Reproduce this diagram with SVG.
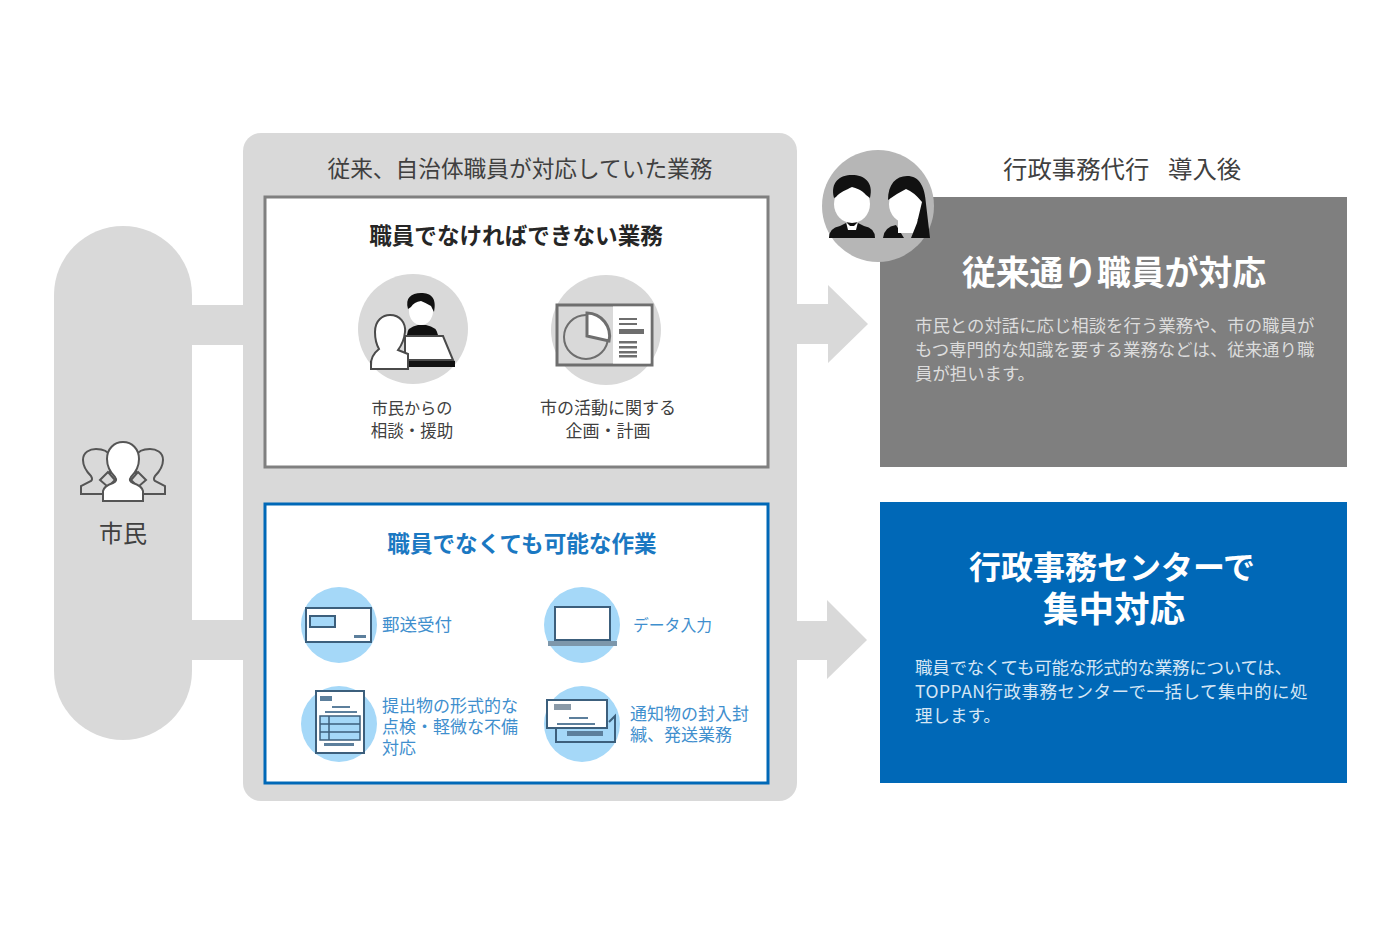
<svg xmlns="http://www.w3.org/2000/svg" width="1400" height="934" viewBox="0 0 1400 934">
<style>
text{font-family:"Noto Sans CJK JP","Noto Sans",sans-serif;text-anchor:middle}
.g{fill:#d9d9d9}
.t{fill:#404040;font-size:17px}
.b{font-family:"Liberation Sans","Noto Sans CJK JP",sans-serif;fill:#3f8fce;font-size:17px;text-anchor:start}
.h{font-family:"Liberation Sans","Noto Sans CJK JP",sans-serif;font-weight:700;fill:#fff}
.w{fill:#fff}
.body{fill:#dcdcdc;font-size:17.4px;text-anchor:start}
.body2{fill:#d5e6f5;font-size:17.5px;text-anchor:start}
.ic{stroke:#4a4a4a;stroke-width:2;fill:#fff}
.icb{stroke:#3c5f7c;stroke-width:2;fill:#fff}
.lc{fill:#a5d8f8}
.k{fill:#111}
.bar{fill:#6e6e6e}
.barb{fill:#5c7f9c}
</style>
<rect width="1400" height="934" fill="#fff"/>
<g id="connectors">
<rect class="g" x="190" y="305" width="56" height="40"/>
<rect class="g" x="190" y="620" width="56" height="40"/>
<path class="g" d="M795 304H828V285L868 324L828 363V344H795Z"/>
<path class="g" d="M795 621H827V600L867 640L827 679V660H795Z"/>
</g>
<g id="citizen">
<rect class="g" x="54" y="226" width="138" height="514" rx="69"/>
<g stroke="#555" stroke-width="2" fill="#d9d9d9">
<path d="M81 494V486L91 481Q93 479 91 476Q83 468 83 460C83 452 90 449 96 449C102 449 108 451 110 456V494Z"/>
<path d="M165 494V486L155 481Q153 479 155 476Q163 468 163 460C163 452 156 449 150 449C144 449 138 451 136 456V494Z"/>
<path d="M100 480L108 472L115 480L108 487Z"/>
<path d="M146 480L138 472L131 480L138 487Z"/>
<path fill="#fff" d="M103 501V491Q104 486 113 483Q118 481 115 477C110 472 107 466 107 459C107 449 114 442 123 442C132 442 139 449 139 459C139 466 136 472 131 477Q128 481 133 483Q142 486 143 491V501Z"/>
</g>
<text x="123" y="542" style="font-size:24px;fill:#404040">市民</text>
</g>
<g id="panel">
<rect class="g" x="243" y="133" width="554" height="668" rx="18"/>
<text x="520" y="177" style="font-size:22.700px;fill:#404040">従来、自治体職員が対応していた業務</text>
</g>
<g id="box-staff">
<rect x="265" y="197" width="503" height="270" fill="#fff" stroke="#808080" stroke-width="3"/>
<text x="516" y="244" style="font-size:22.600px;font-weight:700;fill:#262626">職員でなければできない業務</text>
<circle class="g" cx="413" cy="329" r="55"/>
<path class="k" d="M407 335Q407 327 418 325H426Q437 327 438 335Z"/>
<ellipse class="w" cx="421" cy="311" rx="12" ry="14"/>
<path class="k" d="M408 309C405 298 411 293 421 293C431 293 437 298 434 312L431 306Q426 303 421 301Q414 302 411 307Z"/>
<path class="ic" d="M405 336H443L453 360H405Z"/>
<rect class="k" x="370" y="361" width="85" height="6"/>
<path class="ic" d="M371 366Q370 356 379 349Q375 342 375 332C375 320 383 315 390 315C400 315 406 323 405 332Q404 342 398 350L408 354V369H371Z"/>
<text x="412" y="414" style="font-size:16.200px;fill:#404040">市民からの</text>
<text x="412" y="437" style="font-size:16.500px;fill:#404040">相談・援助</text>
<circle class="g" cx="606" cy="330" r="55"/>
<rect x="557" y="305" width="95" height="60" fill="#d9d9d9" stroke="#6e6e6e" stroke-width="3"/>
<rect x="613" y="306.500" width="37.500" height="57" fill="#fff"/>
<circle cx="586" cy="337" r="22" fill="#d9d9d9" stroke="#6e6e6e" stroke-width="2"/>
<path d="M587 313A23 23 0 0 1 609 341L587 336Z" fill="#fff" stroke="#6e6e6e" stroke-width="3"/>
<rect class="bar" x="619" y="318" width="18" height="2"/><rect class="bar" x="619" y="323" width="18" height="2"/>
<rect class="bar" x="619" y="329" width="25" height="5"/>
<rect class="bar" x="619" y="341" width="18" height="2.500"/><rect class="bar" x="619" y="346" width="18" height="2.500"/><rect class="bar" x="619" y="351" width="18" height="2.500"/><rect class="bar" x="619" y="355" width="18" height="2.500"/>
<text x="608" y="414" class="t">市の活動に関する</text>
<text x="608" y="437" class="t">企画・計画</text>
</g>
<g id="box-nonstaff">
<rect x="265" y="504" width="503" height="279" fill="#fff" stroke="#0068b7" stroke-width="3"/>
<text x="522" y="552" style="font-size:22.600px;font-weight:700;fill:#1a78c2">職員でなくても可能な作業</text>
<g id="item-mail">
<circle class="lc" cx="339" cy="625" r="38"/>
<rect class="icb" x="306" y="608" width="65" height="34"/>
<rect x="310" y="616" width="25" height="11" fill="#a5d8f8" stroke="#3c5f7c" stroke-width="2"/>
<rect class="barb" x="354" y="635" width="12" height="3"/>
<text x="382" y="631" style="font-size:17.500px;fill:#3f8fce;text-anchor:start">郵送受付</text>
</g>
<g id="item-data">
<circle class="lc" cx="582" cy="625" r="38"/>
<rect class="icb" x="555" y="607" width="55" height="33"/>
<rect x="548" y="641" width="69" height="5" fill="#7d97ab"/>
<text x="633" y="631" style="font-size:15.800px;fill:#3f8fce;text-anchor:start">データ入力</text>
</g>
<g id="item-doc">
<circle class="lc" cx="339" cy="724" r="38"/>
<rect class="icb" x="316" y="691" width="48" height="62"/>
<rect class="barb" x="320" y="696" width="12" height="5"/>
<rect class="barb" x="332" y="706" width="18" height="2"/><rect class="barb" x="325" y="711" width="32" height="2"/>
<rect x="320" y="716" width="40" height="24" fill="#a5d8f8" stroke="#3c5f7c" stroke-width="1.500"/>
<path d="M320 724H360M320 732H360M329 716V740" stroke="#3c5f7c" stroke-width="1.500" fill="none"/>
<rect class="barb" x="324" y="743" width="30" height="3"/>
<text class="b"><tspan x="382" y="712">提出物の形式的な</tspan><tspan x="382" y="733">点検・軽微な不備</tspan><tspan x="382" y="754">対応</tspan></text>
</g>
<g id="item-envelope">
<circle class="lc" cx="582" cy="724" r="38"/>
<path d="M556 726V742H615V716L609 722" fill="none" stroke="#3c5f7c" stroke-width="2"/>
<rect class="barb" x="567" y="731" width="36" height="5"/>
<rect x="547" y="700" width="60" height="28" fill="#fff" stroke="#3c5f7c" stroke-width="2"/>
<rect x="554" y="704" width="17" height="6" fill="#8a9aa8"/>
<rect class="barb" x="569" y="717" width="19" height="2"/><rect class="barb" x="557" y="723" width="38" height="2"/>
<text class="b"><tspan x="630" y="720">通知物の封入封</tspan><tspan x="630" y="741">緘、発送業務</tspan></text>
</g>
</g>
<g id="after-label">
<text x="1003" y="178" style="font-size:24.400px;fill:#404040;text-anchor:start">行政事務代行<tspan x="1168">導入後</tspan></text>
</g>
<g id="result-staff">
<rect x="880" y="197" width="467" height="270" fill="#7f7f7f"/>
<text x="1114" y="285" class="h" style="font-size:33.800px">従来通り職員が対応</text>
<text x="915" y="332" class="body">市民との対話に応じ相談を行う業務や、市の職員が</text>
<text x="915" y="356" class="body">もつ専門的な知識を要する業務などは、従来通り職</text>
<text x="915" y="380" class="body">員が担います。</text>
</g>
<g id="staff-badge">
<circle cx="878" cy="206" r="56" fill="#b6b6b6"/>
<path class="k" d="M829 238Q829 228 840 226L848 222H856L864 226Q875 228 875 238Z"/>
<path class="w" d="M846 222L850 226H854L858 222L856 230H848Z"/>
<ellipse class="w" cx="852" cy="204" rx="18" ry="19"/>
<path class="k" d="M834 198C830 182 840 175 852 175C864 175 874 182 870 198L866 195C862 190 856 188 852 187C846 190 840 192 836 197Z"/>
<path class="k" d="M883 238Q884 227 896 225L904 238Z"/>
<path class="w" d="M898 220H918V233H898Z"/>
<ellipse class="w" cx="907" cy="204" rx="18" ry="19"/>
<path class="k" d="M888 200C888 184 896 176 907 176C919 176 925 186 926 204L930 238H911L917 223L922 202Q914 192 906 189Q896 194 888 200Z"/>
</g>
<g id="result-center">
<rect x="880" y="502" width="467" height="281" fill="#0068b7"/>
<text x="1112" y="579" class="h" style="font-size:32px">行政事務センターで</text>
<text x="1114" y="622" class="h" style="font-size:35.500px">集中対応</text>
<text x="915" y="674" class="body2" style="letter-spacing:-.27px">職員でなくても可能な形式的な業務については、</text>
<text x="915" y="698" class="body2" style="letter-spacing:.5px">TOPPAN行政事務センターで一括して集中的に処</text>
<text x="915" y="722" class="body2">理します。</text>
</g>
</svg>
